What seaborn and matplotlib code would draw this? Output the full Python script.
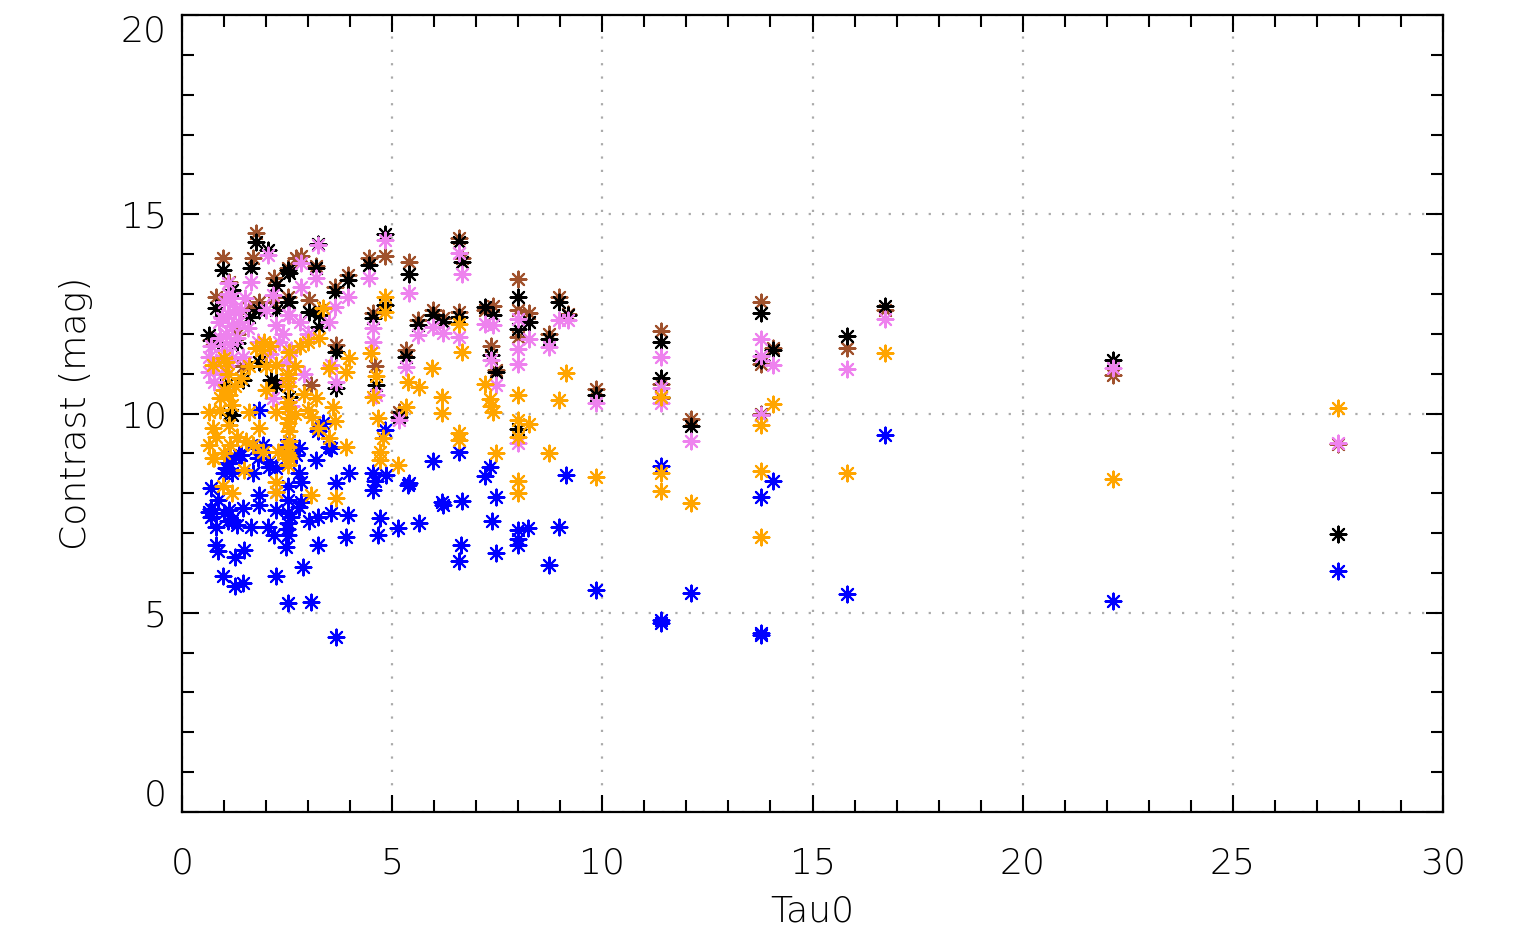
import matplotlib
matplotlib.use("Agg")
import matplotlib.pyplot as plt
import seaborn as sns
import pandas as pd
from matplotlib.ticker import MultipleLocator

# ---------------- data ----------------
black_x = [27.5, 22.14, 16.72, 15.81, 14.05, 13.77, 13.77, 13.77, 12.1, 11.39, 11.39, 11.39, 9.86, 9.18, 8.96, 8.72,
           8.25, 7.99, 7.99, 7.99, 7.48, 7.34, 7.4, 7.2, 6.67, 6.58, 6.58, 6.2, 5.97, 5.61, 5.4, 5.33, 5.16, 4.82,
           4.82, 4.62, 4.54, 4.46, 3.94, 3.67, 3.67, 3.63, 3.27, 3.27, 3.19, 3.23, 3.03, 2.55, 2.51, 2.55, 2.51,
           2.55, 2.24, 2.24, 2.24, 2.12, 2.04, 1.84, 1.84, 1.76, 1.64, 1.6, 1.44, 1.32, 1.2, 1.2, 0.97, 1.05, 0.85,
           0.81, 0.65, 1.13, 2.24]
black_y = [6.97, 11.34, 12.69, 11.94, 11.59, 12.53, 11.35, 9.96, 9.69, 11.79, 10.88, 10.42, 10.46, 12.47, 12.8, 11.88,
           12.3, 12.92, 12.13, 9.62, 11.04, 11.46, 12.47, 12.66, 13.8, 14.3, 12.42, 12.3, 12.47, 12.21, 13.51, 11.42, 9.91, 14.5,
           12.72, 10.72, 12.39, 13.73, 13.35, 11.55, 10.63, 13.06, 12.46, 12.18, 13.64, 14.25, 12.55, 13.52, 13.6, 12.8, 12.8,
           10.42, 13.23, 12.6, 10.72, 10.84, 14.1, 12.6, 11.3, 14.3, 13.64, 12.43, 10.84, 11.76, 13.1, 9.96, 13.6, 10.72, 11.76,
           12.64, 11.97, 10.0, 10.77]

brown_x = [27.5, 22.14, 16.72, 15.81, 14.05, 13.77, 13.77, 13.77, 12.1, 11.39, 11.39, 11.39, 9.86, 9.18, 8.96, 8.72,
           8.25, 7.99, 7.99, 7.99, 7.48, 7.34, 7.4, 7.2, 6.67, 6.58, 6.58, 6.2, 5.97, 5.61, 5.4, 5.33, 5.16, 4.82,
           4.58, 4.54, 4.46, 3.94, 3.67, 3.63, 3.27, 3.07, 3.03, 3.19, 2.83, 2.71, 2.51, 2.51, 2.2, 2.2, 1.84,
           1.76, 1.68, 1.6, 1.44, 1.13, 0.97, 0.81, 0.69, 1.3]
brown_y = [9.23, 10.96, 12.6, 11.65, 11.65, 12.8, 11.25, 10.0, 9.87, 12.07, 10.75, 10.4, 10.61, 12.5, 12.92, 12.0,
           12.51, 13.38, 12.59, 11.92, 11.1, 11.69, 12.69, 12.6, 13.9, 14.4, 12.55, 12.4, 12.59, 12.34, 13.8, 11.59, 10.04, 13.95,
           11.18, 12.52, 13.9, 13.48, 11.72, 13.18, 12.59, 10.72, 12.85, 13.7, 13.94, 13.9, 13.64, 12.93, 13.39, 12.8, 12.8,
           14.52, 13.9, 12.64, 11.18, 13.3, 13.9, 12.93, 11.84, 12.0]

violet_x = [27.5, 22.14, 16.72, 15.81, 14.05, 13.77, 13.77, 13.77, 12.1, 11.39, 11.39, 11.39, 9.86, 9.18, 8.96, 8.72,
            8.25, 7.99, 7.99, 7.99, 7.99, 7.48, 7.34, 7.4, 7.2, 6.67, 6.58, 6.58, 6.2, 5.97, 5.61, 5.4, 5.33, 5.16,
            4.82, 4.62, 4.54, 4.54, 4.46, 3.94, 3.67, 3.63, 3.55, 3.5, 3.23, 3.19, 2.83, 2.83, 2.51, 2.55, 2.16,
            2.24, 2.16, 2.04, 1.64, 1.56, 1.44, 1.09, 0.89, 0.65, 0.65, 0.77,
            1.0, 1.1, 1.2, 1.3, 1.0, 0.8, 1.2, 1.4, 0.95, 2.0, 2.4, 2.6, 2.8, 3.0, 2.5, 2.3, 1.8, 2.5, 2.9,
            1.05, 1.15, 1.25, 1.1, 0.95, 1.2, 1.35, 0.9, 1.05, 0.7, 1.5, 2.1, 2.6]
violet_y = [9.25, 11.14, 12.36, 11.12, 11.21, 11.88, 11.44, 9.96, 9.31, 11.43, 10.63, 10.27, 10.27, 12.34, 12.34, 11.67,
            11.88, 12.38, 11.63, 11.25, 9.25, 10.71, 11.34, 12.21, 12.25, 13.51, 14.04, 11.92, 12.02, 12.17, 11.96, 13.02, 11.17, 9.83,
            14.35, 10.47, 12.14, 11.8, 13.39, 12.93, 10.8, 12.68, 11.22, 12.3, 14.23, 13.39, 13.77, 13.18, 12.46, 12.46, 12.97,
            12.22, 10.38, 13.98, 13.3, 12.14, 11.43, 13.27, 12.3, 11.43, 11.05, 10.8,
            12.8, 12.5, 12.2, 11.9, 11.6, 11.3, 12.9, 12.6, 11.0, 12.6, 12.0, 11.6, 12.3, 12.0, 11.3, 11.8, 11.8, 10.8, 11.0,
            12.0, 11.75, 12.6, 13.0, 12.4, 11.4, 12.3, 11.9, 11.2, 11.7, 12.9, 11.5, 10.2]

orange_x = [27.5, 22.14, 16.72, 15.81, 14.05, 13.77, 13.77, 13.77, 12.1, 11.39, 11.39, 11.39, 9.86, 9.14, 8.96, 8.72,
            8.25, 7.99, 7.99, 7.99, 7.99, 7.99, 7.48, 7.2, 7.32, 7.4, 7.34, 6.58, 6.67, 6.6, 6.6, 6.18, 6.18, 5.95,
            5.63, 5.37, 5.33, 5.15, 4.82, 4.82, 4.5, 4.62, 4.54, 4.66, 4.78, 4.7, 4.7, 3.98, 3.9, 3.9, 3.67, 3.63,
            3.59, 3.5, 3.5, 3.35, 3.27, 3.23, 3.19, 3.07, 2.55, 2.55, 2.55, 2.55, 2.55, 2.51, 2.51, 2.51, 2.48, 2.51,
            2.24, 2.24, 2.28, 2.24, 2.24, 1.92, 1.84, 1.76, 1.6, 1.52, 1.48, 1.2, 1.2, 1.13, 1.13, 1.05, 0.97, 0.73,
            0.73, 0.73, 0.65, 0.65, 0.77,
            2.8, 3.0, 2.9, 3.0, 2.7, 2.0, 1.9, 2.1, 1.4, 1.0, 0.9, 1.3, 1.7, 2.0, 2.7, 3.1, 0.8, 1.0,
            2.52, 2.52, 2.52, 2.52, 2.52, 1.1, 1.25, 0.9, 1.0, 1.15, 1.6, 1.95]
orange_y = [10.13, 8.35, 11.52, 8.51, 10.23, 9.71, 8.56, 6.9, 7.76, 10.42, 8.51, 8.06, 8.41, 11.02, 10.33, 9.0,
            9.73, 10.46, 9.83, 9.41, 8.3, 8.0, 9.0, 10.75, 10.37, 10.04, 10.2, 12.24, 11.55, 9.5, 9.33, 10.42, 10.01, 11.13,
            10.67, 10.79, 10.16, 8.7, 12.93, 12.55, 11.51, 10.93, 10.42, 9.88, 9.38, 9.04, 8.84, 11.39, 11.05, 9.17, 7.88, 9.8,
            10.17, 11.14, 9.38, 12.64, 11.89, 9.63, 10.38, 7.96, 11.55, 9.88, 9.55, 9.3, 8.88, 10.3, 10.7, 11.0, 9.0, 8.7,
            11.22, 10.05, 9.04, 8.29, 8.04, 9.04, 9.63, 11.64, 10.05, 9.3, 8.58, 10.22, 8.0, 10.47, 9.71, 11.3, 8.17, 11.22,
            9.63, 8.88, 10.05, 9.21, 8.88,
            11.7, 11.8, 10.5, 10.1, 10.0, 11.2, 11.6, 11.7, 10.9, 10.6, 10.1, 9.4, 9.2, 10.6, 11.2, 9.9, 9.4, 9.0,
            10.15, 9.75, 9.15, 10.9, 8.95, 11.0, 10.7, 10.4, 11.4, 9.2, 11.2, 11.8]

blue_x = [27.5, 22.14, 16.72, 15.81, 14.05, 13.77, 13.77, 13.77, 12.1, 11.39, 11.39, 11.39, 9.86, 9.14, 8.96, 8.72,
          8.23, 7.99, 7.99, 7.99, 7.48, 7.48, 7.38, 7.33, 7.2, 6.67, 6.63, 6.58, 6.6, 6.19, 6.2, 5.97, 5.63, 5.37,
          5.4, 5.15, 4.85, 4.82, 4.7, 4.66, 4.54, 4.54, 4.6, 3.98, 3.94, 3.9, 3.67, 3.67, 3.55, 3.55, 3.35,
          3.23, 3.5, 3.19, 3.23, 3.23, 3.07, 3.03, 2.87, 2.83, 2.79, 2.83, 2.79, 2.79, 2.71, 2.55, 2.51, 2.51,
          2.51, 2.51, 2.51, 2.48, 2.51, 2.48, 2.24, 2.24, 2.24, 2.2, 2.24, 2.08, 2.08, 2.04, 1.92, 1.84, 1.84,
          1.84, 1.8, 1.76, 1.68, 1.64, 1.48, 1.44, 1.44, 1.4, 1.36, 1.25, 1.25, 1.2, 1.13, 1.13, 1.13, 1.05,
          0.97, 0.85, 0.85, 0.81, 0.81, 0.69, 0.69, 0.65,
          1.0, 1.1, 1.3, 0.7, 2.5, 2.6, 1.0, 1.2]
blue_y = [6.05, 5.3, 9.46, 5.47, 8.31, 7.91, 4.5, 4.45, 5.5, 8.69, 4.82, 4.75, 5.57, 8.45, 7.16, 6.2,
          7.12, 7.07, 6.85, 6.7, 7.91, 6.5, 7.31, 8.66, 8.42, 7.81, 6.7, 6.3, 9.04, 7.79, 7.7, 8.81, 7.26, 8.2,
          8.25, 7.12, 8.45, 9.58, 7.37, 6.96, 8.5, 8.09, 8.3, 8.5, 7.46, 6.91, 8.25, 4.4, 9.13, 7.5, 9.76,
          9.55, 9.17, 8.84, 7.41, 6.7, 5.28, 7.29, 6.16, 8.29, 8.5, 7.79, 7.66, 9.13, 8.96, 9.21, 8.17, 7.83,
          7.5, 7.25, 6.96, 6.66, 5.24, 9.21, 8.63, 8.04, 7.58, 6.96, 5.91, 8.67, 8.79, 7.16, 9.21, 10.09, 7.96,
          7.71, 8.88, 9.13, 8.5, 7.16, 6.58, 7.62, 5.74, 8.96, 8.96, 6.41, 5.66, 7.33, 8.75, 7.58, 8.88, 8.63,
          5.91, 7.83, 6.54, 7.16, 6.7, 8.13, 7.41, 7.54,
          7.5, 7.3, 7.2, 7.6, 7.1, 7.4, 8.5, 8.5]

x_ticks = [0, 5, 10, 15, 20, 25, 30]
x_tick_labels = ["0", "5", "10", "15", "20", "25", "30"]
y_ticks = [0, 5, 10, 15, 20]
y_tick_labels = ["0", "5", "10", "15", "20"]
x_label = "Tau0"
y_label = "Contrast (mag)"

# drawing order (first is bottom-most)
series = [
    ("blue", blue_x, blue_y, "#0000ff"),
    ("brown", brown_x, brown_y, "#a0522d"),
    ("black", black_x, black_y, "#000000"),
    ("violet", violet_x, violet_y, "#ee82ee"),
    ("orange", orange_x, orange_y, "#ffa500"),
]

# ---------------- figure ----------------
sns.set_theme(style="white")
plt.rcParams["font.family"] = ["DejaVu Sans"]
plt.rcParams["font.weight"] = "light"
plt.rcParams["axes.labelweight"] = "light"

fig = plt.figure(figsize=(15.4, 9.36), dpi=100)
ax = fig.add_axes([182 / 1540, 1 - 812 / 936, (1443 - 182) / 1540, (812 - 15) / 936])
ax.set_facecolor("white")

for name, xs, ys, col in series:
    df = pd.DataFrame({"tau0": xs, "contrast": ys})
    sns.scatterplot(data=df, x="tau0", y="contrast", color=col, marker=(8, 2, 0),
                    s=130, linewidth=1.5, ax=ax, zorder=3, legend=False)

ax.set_xlim(0, 30)
ax.set_ylim(0, 20)
ax.set_xticks(x_ticks)
ax.set_xticklabels(x_tick_labels)
ax.set_yticks(y_ticks)
ax.set_yticklabels(y_tick_labels)
ax.xaxis.set_minor_locator(MultipleLocator(1))
ax.yaxis.set_minor_locator(MultipleLocator(1))

ax.grid(True, which="major", color="#aaaaaa", linestyle=(0, (1, 5)), linewidth=1.6, zorder=0)
ax.set_axisbelow(True)

for sp in ax.spines.values():
    sp.set_visible(True)
    sp.set_color("black")
    sp.set_linewidth(1.6)

ax.tick_params(which="both", direction="in", top=True, right=True, bottom=True, left=True,
               color="black", width=1.5)
ax.tick_params(which="major", length=12)
ax.tick_params(which="minor", length=8.5)
ax.tick_params(axis="x", which="major", pad=25, labelsize=26, labelcolor="black")
ax.tick_params(axis="y", which="major", pad=11, labelsize=26, labelcolor="black")

ax.set_xlabel(x_label, fontsize=26, color="black", labelpad=10, fontweight="light")
ax.set_ylabel(y_label, fontsize=26, color="black", labelpad=20, fontweight="light")

# IDL-style nudging of the end labels on the y axis
yt = ax.yaxis.get_major_ticks()
yt[0].label1.set_verticalalignment("bottom")
yt[-1].label1.set_verticalalignment("top")

fig.savefig("out.png", dpi=100, facecolor="white")
